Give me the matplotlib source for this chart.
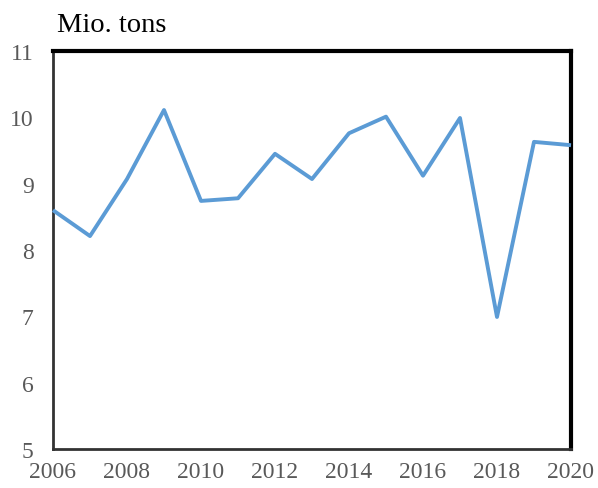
import matplotlib
matplotlib.use('Agg')
import matplotlib.pyplot as plt

years = list(range(2006, 2021))
values = [8.60, 8.21, 9.07, 10.11, 8.74, 8.78, 9.45, 9.07, 9.76, 10.01, 9.12, 9.99, 6.99, 9.63, 9.58]
xticks = list(range(2006, 2021, 2))
yticks = [5, 6, 7, 8, 9, 10, 11]

plt.rcParams['font.family'] = ['Liberation Serif', 'DejaVu Serif']

fig = plt.figure(figsize=(5.98, 4.89), dpi=100)
ax = fig.add_axes([53/598, 1 - 450/489, (571 - 53)/598, (450 - 52)/489])

ax.plot(years, values, color='#5B9BD5', lw=2.8, solid_capstyle='butt', clip_on=False, zorder=3)

ax.set_xlim(2006, 2020)
ax.set_ylim(5, 11)
ax.set_xticks(xticks)
ax.set_yticks(yticks)
ax.tick_params(length=0, labelsize=17, colors='#595959', pad=14)
ax.tick_params(axis='x', pad=9)

for side in ['top', 'right']:
    ax.spines[side].set_linewidth(3)
    ax.spines[side].set_color('black')
for side in ['left', 'bottom']:
    ax.spines[side].set_linewidth(2)
    ax.spines[side].set_color('#333333')

fig.text(57/598, 1 - 26/489, 'Mio. tons', fontsize=20.5, color='black', va='center', ha='left')

fig.savefig('out.png', dpi=100)
